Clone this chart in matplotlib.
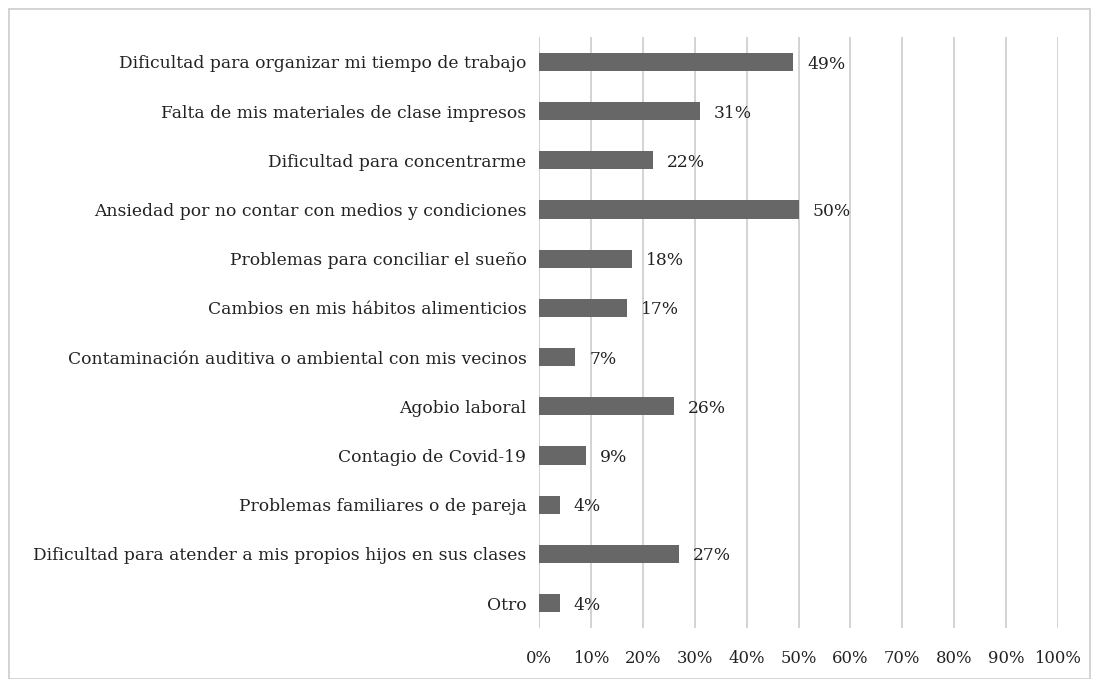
import matplotlib
matplotlib.use("Agg")
import matplotlib.pyplot as plt
from matplotlib.patches import Rectangle
from matplotlib.ticker import FuncFormatter, MultipleLocator

categories = [
    "Dificultad para organizar mi tiempo de trabajo",
    "Falta de mis materiales de clase impresos",
    "Dificultad para concentrarme",
    "Ansiedad por no contar con medios y condiciones",
    "Problemas para conciliar el sueño",
    "Cambios en mis hábitos alimenticios",
    "Contaminación auditiva o ambiental con mis vecinos",
    "Agobio laboral",
    "Contagio de Covid-19",
    "Problemas familiares o de pareja",
    "Dificultad para atender a mis propios hijos en sus clases",
    "Otro",
]
values = [49, 31, 22, 50, 18, 17, 7, 26, 9, 4, 27, 4]

plt.rcParams['font.family'] = ['DejaVu Serif']
W, H = 1093, 679
fig = plt.figure(figsize=(W / 100, H / 100), dpi=100)
ax = fig.add_axes([539 / W, 1 - 627.6 / H, (1058 - 539) / W, (627.6 - 37.4) / H])

FS = 12.3
y = list(range(len(categories)))
ax.barh(y, values, height=0.37, color='#676767', zorder=3)
ax.set_ylim(len(categories) - 0.5, -0.5)
ax.set_xlim(0, 100)
ax.set_yticks(y)
ax.set_yticklabels(categories, fontsize=FS, color='#222222')
ax.xaxis.set_major_locator(MultipleLocator(10))
ax.xaxis.set_major_formatter(FuncFormatter(lambda v, p: f"{int(v)}%"))
ax.tick_params(axis='x', labelsize=11.8, labelcolor='#222222', length=0, pad=16)
ax.tick_params(axis='y', length=0, pad=9)
ax.grid(axis='x', color='#d0d0d0', linewidth=1.3, zorder=0)
for s in ax.spines.values():
    s.set_visible(False)
ax.axvline(0, color='#d0d0d0', linewidth=1.3, zorder=1)

for yi, v in zip(y, values):
    ax.annotate(f"{v}%", (v, yi), xytext=(10, -1.5), textcoords='offset points',
                va='center', ha='left', fontsize=FS, color='#222222')

fig.patches.append(Rectangle((9 / W, 0), (1090 - 9) / W, 1 - 9 / H, transform=fig.transFigure,
                             fill=False, edgecolor='#d0d0d0', linewidth=1.3))
fig.savefig("out.png", dpi=100, facecolor='white')
